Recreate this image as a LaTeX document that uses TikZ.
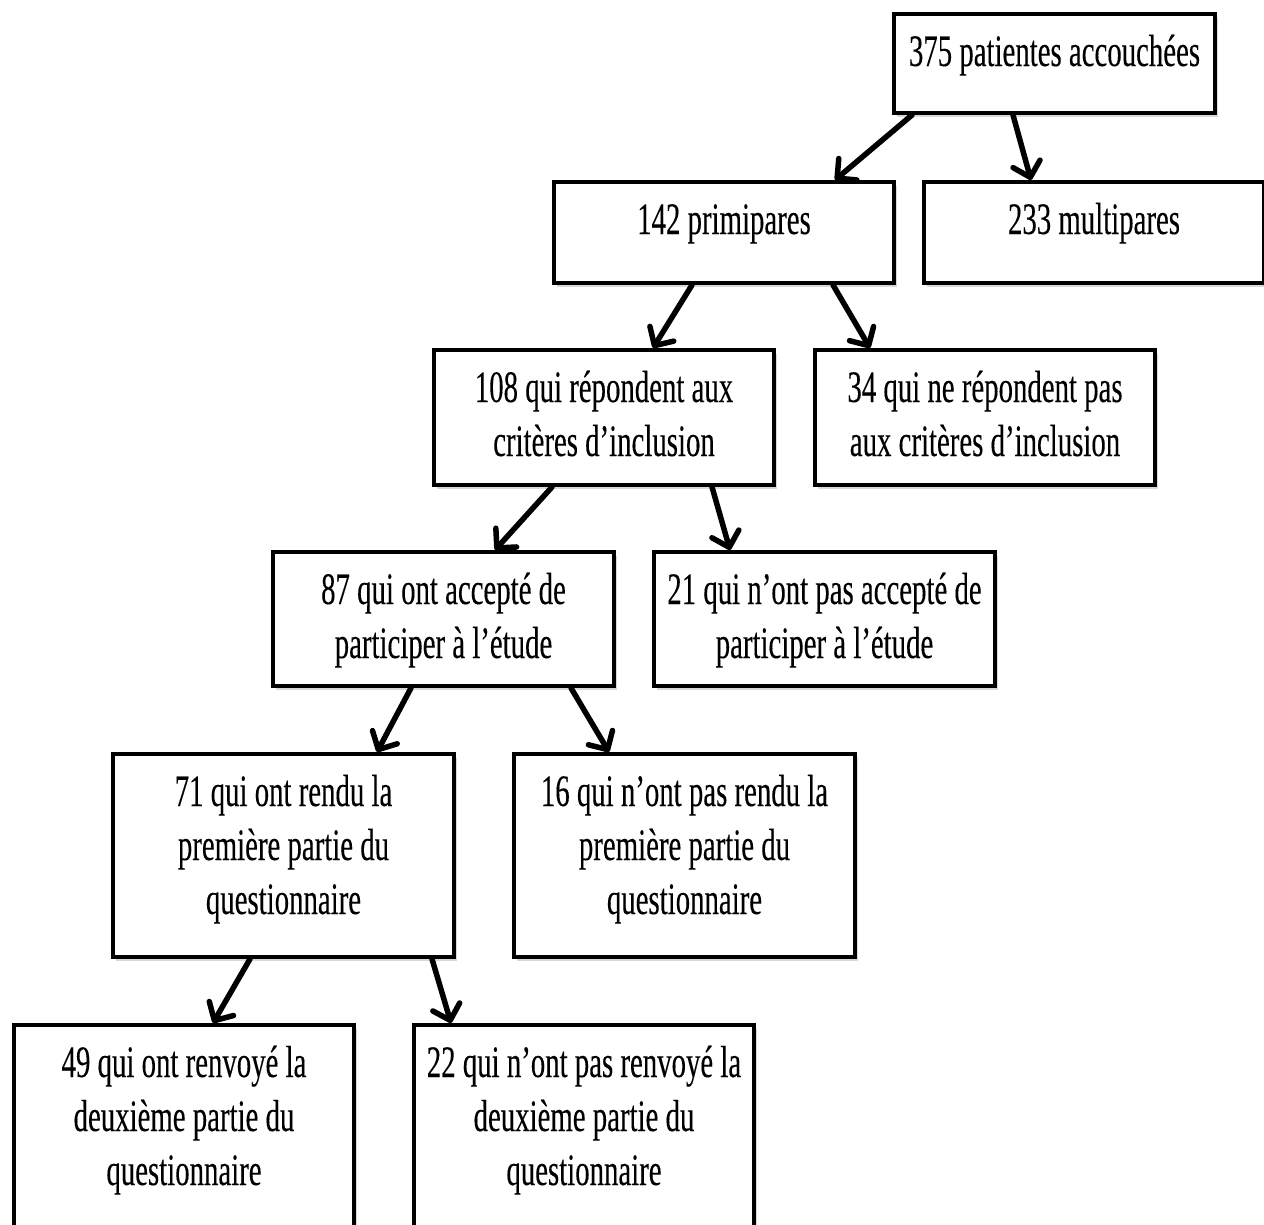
\documentclass[tikz,border=0pt]{standalone}
\usepackage{fontspec}
\setmainfont{Liberation Serif}[FakeStretch=0.64,FakeBold=0.2]
\usetikzlibrary{arrows.meta,shadows}
\tikzset{
  boxnode/.style={draw=black, line width=4pt, fill=white, inner sep=0pt, anchor=north west,
    drop shadow={opacity=0.3, shadow xshift=3pt, shadow yshift=-4pt}},
  flowarrow/.style={line width=5.5pt, line cap=round, -{Straight Barb[length=14pt,width=28pt,round]}},
}
\newcommand{\boxtext}[3]{\parbox[t][#2][t]{#1}{\centering\fontsize{45}{54}\selectfont\rule{0pt}{52pt}#3}}
\begin{document}
\begin{tikzpicture}[x=1pt,y=-1pt]
\useasboundingbox[fill=white] (0,0) rectangle (1264,1224);
\node[boxnode] (A) at (892,12)  {\boxtext{321pt}{99pt}{375 patientes accouchées}};
\node[boxnode] (B) at (552,180) {\boxtext{340pt}{101pt}{142 primipares}};
\node[boxnode] (C) at (922,180) {\boxtext{340pt}{101pt}{233 multipares}};
\node[boxnode] (D) at (432,348) {\boxtext{340pt}{135pt}{108 qui répondent aux\\critères d’inclusion}};
\node[boxnode] (E) at (813,348) {\boxtext{340pt}{135pt}{34 qui ne répondent pas\\aux critères d’inclusion}};
\node[boxnode] (F) at (271,550) {\boxtext{341pt}{134pt}{87 qui ont accepté de\\participer à l’étude}};
\node[boxnode] (G) at (652,550) {\boxtext{341pt}{134pt}{21 qui n’ont pas accepté de\\participer à l’étude}};
\node[boxnode] (H) at (111,752) {\boxtext{341pt}{203pt}{71 qui ont rendu la\\première partie du\\questionnaire}};
\node[boxnode] (I) at (512,752) {\boxtext{341pt}{203pt}{16 qui n’ont pas rendu la\\première partie du\\questionnaire}};
\node[boxnode] (J) at (12,1023) {\boxtext{340pt}{230pt}{49 qui ont renvoyé la\\deuxième partie du\\questionnaire}};
\node[boxnode] (K) at (412,1023) {\boxtext{340pt}{230pt}{22 qui n’ont pas renvoyé la\\deuxième partie du\\questionnaire}};
\draw[flowarrow] ([xshift=20pt]A.south west) -- ([xshift=283pt]B.north west);
\draw[flowarrow] ([xshift=121pt]A.south west) -- ([xshift=109pt]C.north west);
\draw[flowarrow] ([xshift=140pt]B.south west) -- ([xshift=221pt]D.north west);
\draw[flowarrow] ([xshift=281pt]B.south west) -- ([xshift=57pt]E.north west);
\draw[flowarrow] ([xshift=120pt]D.south west) -- ([xshift=224pt]F.north west);
\draw[flowarrow] ([xshift=280pt]D.south west) -- ([xshift=78pt]G.north west);
\draw[flowarrow] ([xshift=140pt]F.south west) -- ([xshift=266pt]H.north west);
\draw[flowarrow] ([xshift=300pt]F.south west) -- ([xshift=97pt]I.north west);
\draw[flowarrow] ([xshift=139pt]H.south west) -- ([xshift=201pt]J.north west);
\draw[flowarrow] ([xshift=321pt]H.south west) -- ([xshift=39pt]K.north west);
\end{tikzpicture}
\end{document}
